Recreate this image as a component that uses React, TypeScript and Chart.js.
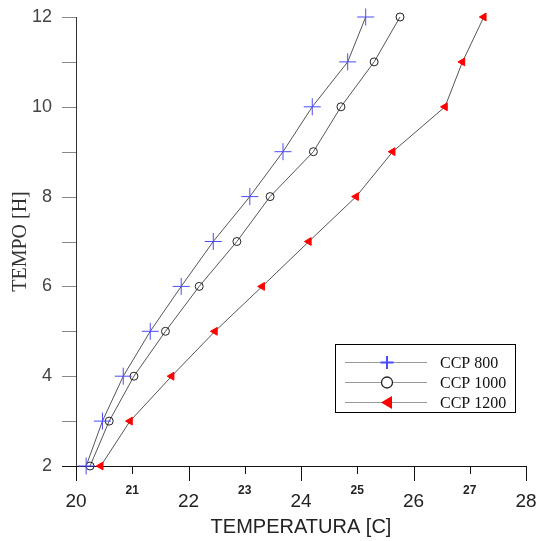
import React, { useEffect, useRef } from "react";
import { Chart, registerables } from "chart.js";

Chart.register(...registerables);

const tempo = [2, 3, 4, 5, 6, 7, 8, 9, 10, 11, 12];
const ccp800 = [20.18, 20.47, 20.84, 21.32, 21.87, 22.44, 23.09, 23.68, 24.2, 24.83, 25.15];
const ccp1000 = [20.25, 20.59, 21.03, 21.59, 22.19, 22.86, 23.45, 24.22, 24.71, 25.3, 25.76];
const ccp1200 = [20.44, 20.96, 21.7, 22.47, 23.31, 24.14, 24.98, 25.63, 26.56, 26.87, 27.25];
const seriesNames = ["CCP 800", "CCP 1000", "CCP 1200"];
const xTitle = "TEMPERATURA [C]";
const yTitle = "TEMPO [H]";

const SANS = "'Liberation Sans', Arial, sans-serif";
const SERIF = "'Liberation Serif', 'Times New Roman', serif";

const tickMarks = {
  id: "tickMarks",
  afterDraw(chart: any) {
    const ctx = chart.ctx;
    const xs = chart.scales.x;
    const ys = chart.scales.y;
    ctx.save();
    ctx.lineWidth = 1;
    xs.ticks.forEach((t: any) => {
      const px = Math.round(xs.getPixelForValue(t.value)) + 0.5;
      const len = t.value % 2 === 0 ? 15 : 8;
      ctx.strokeStyle = "#111";
      ctx.beginPath();
      ctx.moveTo(px, xs.top);
      ctx.lineTo(px, xs.top + len);
      ctx.stroke();
    });
    ys.ticks.forEach((t: any) => {
      const py = Math.round(ys.getPixelForValue(t.value)) + 0.5;
      ctx.strokeStyle = t.value === 2 ? "#111" : "#888";
      ctx.beginPath();
      ctx.moveTo(ys.right - 14, py);
      ctx.lineTo(ys.right, py);
      ctx.stroke();
    });
    ctx.restore();
  },
};

const boxLegend = {
  id: "boxLegend",
  afterDraw(chart: any) {
    const ctx = chart.ctx;
    const area = chart.chartArea;
    const right = area.right - 11;
    const bottom = area.bottom - 54;
    const w = 180;
    const h = 68;
    const left = right - w;
    const top = bottom - h;
    ctx.save();
    ctx.fillStyle = "#fff";
    ctx.fillRect(left, top, w, h);
    ctx.strokeStyle = "#000";
    ctx.lineWidth = 1;
    ctx.strokeRect(Math.round(left) + 0.5, Math.round(top) + 0.5, w, h);
    chart.data.datasets.forEach((ds: any, i: number) => {
      const cy = Math.round(top + 18 + i * 20) + 0.5;
      ctx.strokeStyle = "#999";
      ctx.lineWidth = 1;
      ctx.beginPath();
      ctx.moveTo(left + 10, cy);
      ctx.lineTo(left + 92, cy);
      ctx.stroke();
      const mx = left + 52;
      if (ds.pointStyle === "cross") {
        ctx.strokeStyle = ds.pointBorderColor;
        ctx.lineWidth = 2;
        ctx.beginPath();
        ctx.moveTo(mx - 6.5, cy);
        ctx.lineTo(mx + 6.5, cy);
        ctx.moveTo(mx, cy - 6.5);
        ctx.lineTo(mx, cy + 6.5);
        ctx.stroke();
      } else if (ds.pointStyle === "circle") {
        ctx.strokeStyle = ds.pointBorderColor;
        ctx.fillStyle = "#fff";
        ctx.lineWidth = 1.3;
        ctx.beginPath();
        ctx.arc(mx, cy, 5.5, 0, Math.PI * 2);
        ctx.fill();
        ctx.stroke();
      } else {
        ctx.fillStyle = ds.pointBackgroundColor;
        ctx.beginPath();
        ctx.moveTo(mx - 6, cy);
        ctx.lineTo(mx + 5, cy - 6.5);
        ctx.lineTo(mx + 5, cy + 6.5);
        ctx.closePath();
        ctx.fill();
      }
      ctx.fillStyle = "#111";
      ctx.font = "16px " + SERIF;
      ctx.textBaseline = "middle";
      ctx.textAlign = "left";
      ctx.fillText(ds.label, left + 105, cy + 1);
    });
    ctx.restore();
  },
};

const zeroPad = (s: any) => {
  s.paddingTop = 0;
  s.paddingBottom = 0;
  s.paddingLeft = 0;
  s.paddingRight = 0;
};

export default function App() {
  const ref = useRef<HTMLCanvasElement | null>(null);
  useEffect(() => {
    if (!ref.current) return;
    const mk = (vals: number[]) => vals.map((v, i) => ({ x: v, y: tempo[i] }));
    const chart = new Chart(ref.current, {
      type: "scatter",
      data: {
        datasets: [
          {
            label: seriesNames[0],
            data: mk(ccp800),
            showLine: true,
            borderColor: "#555",
            borderWidth: 1,
            pointStyle: "cross",
            pointRadius: 8.5,
            pointBorderColor: "#4a4aff",
            pointBackgroundColor: "#4a4aff",
            pointBorderWidth: 1,
            clip: false,
          } as any,
          {
            label: seriesNames[1],
            data: mk(ccp1000),
            showLine: true,
            borderColor: "#555",
            borderWidth: 1,
            pointStyle: "circle",
            pointRadius: 4,
            pointBorderColor: "#222",
            pointBackgroundColor: "rgba(0,0,0,0)",
            pointBorderWidth: 1,
            clip: false,
          } as any,
          {
            label: seriesNames[2],
            data: mk(ccp1200),
            showLine: true,
            borderColor: "#555",
            borderWidth: 1,
            pointStyle: "triangle",
            rotation: -90,
            pointRadius: 4.5,
            pointBorderColor: "#ff0000",
            pointBackgroundColor: "#ff0000",
            pointBorderWidth: 1,
            clip: false,
          } as any,
        ],
      },
      options: {
        animation: false,
        responsive: false,
        layout: { padding: { top: 17, right: 11, left: 0, bottom: 0 } },
        plugins: { legend: { display: false }, tooltip: { enabled: false } },
        scales: {
          x: {
            type: "linear",
            min: 20,
            max: 28,
            afterFit: (s: any) => {
              s.height = 75;
              zeroPad(s);
            },
            grid: { display: true, drawOnChartArea: false, drawTicks: false },
            border: { display: true, color: "#111", width: 1 },
            ticks: {
              stepSize: 1,
              padding: 17,
              color: "#222",
              font: (c: any) =>
                c.tick && c.tick.value % 2 !== 0
                  ? { family: SANS, size: 12, weight: "bold", lineHeight: 1.2 }
                  : { family: SANS, size: 19, lineHeight: 2.02 },
              callback: (v: any) => String(v),
            },
            title: {
              display: true,
              text: xTitle,
              color: "#222",
              font: { family: SANS, size: 20, lineHeight: 1.2 },
              padding: { top: 0, bottom: 2 },
            },
          },
          y: {
            type: "linear",
            min: 2,
            max: 12,
            afterFit: (s: any) => {
              s.width = 76;
              zeroPad(s);
            },
            grid: { display: true, drawOnChartArea: false, drawTicks: false },
            border: { display: true, color: "#333", width: 1 },
            ticks: {
              stepSize: 1,
              padding: 24,
              color: "#444",
              font: { family: SANS, size: 18 },
              callback: (v: any) => (Number(v) % 2 === 0 ? String(v) : ""),
            },
            title: {
              display: true,
              text: yTitle,
              color: "#333",
              font: { family: SERIF, size: 20, lineHeight: 1 },
              padding: { top: 11, bottom: 0 },
            },
          },
        },
      },
      plugins: [tickMarks, boxLegend],
    });
    return () => chart.destroy();
  }, []);
  return (
    <div style={{ position: "absolute", left: 0, top: 0, width: 537, height: 541 }}>
      <canvas ref={ref} width={537} height={541} />
    </div>
  );
}
